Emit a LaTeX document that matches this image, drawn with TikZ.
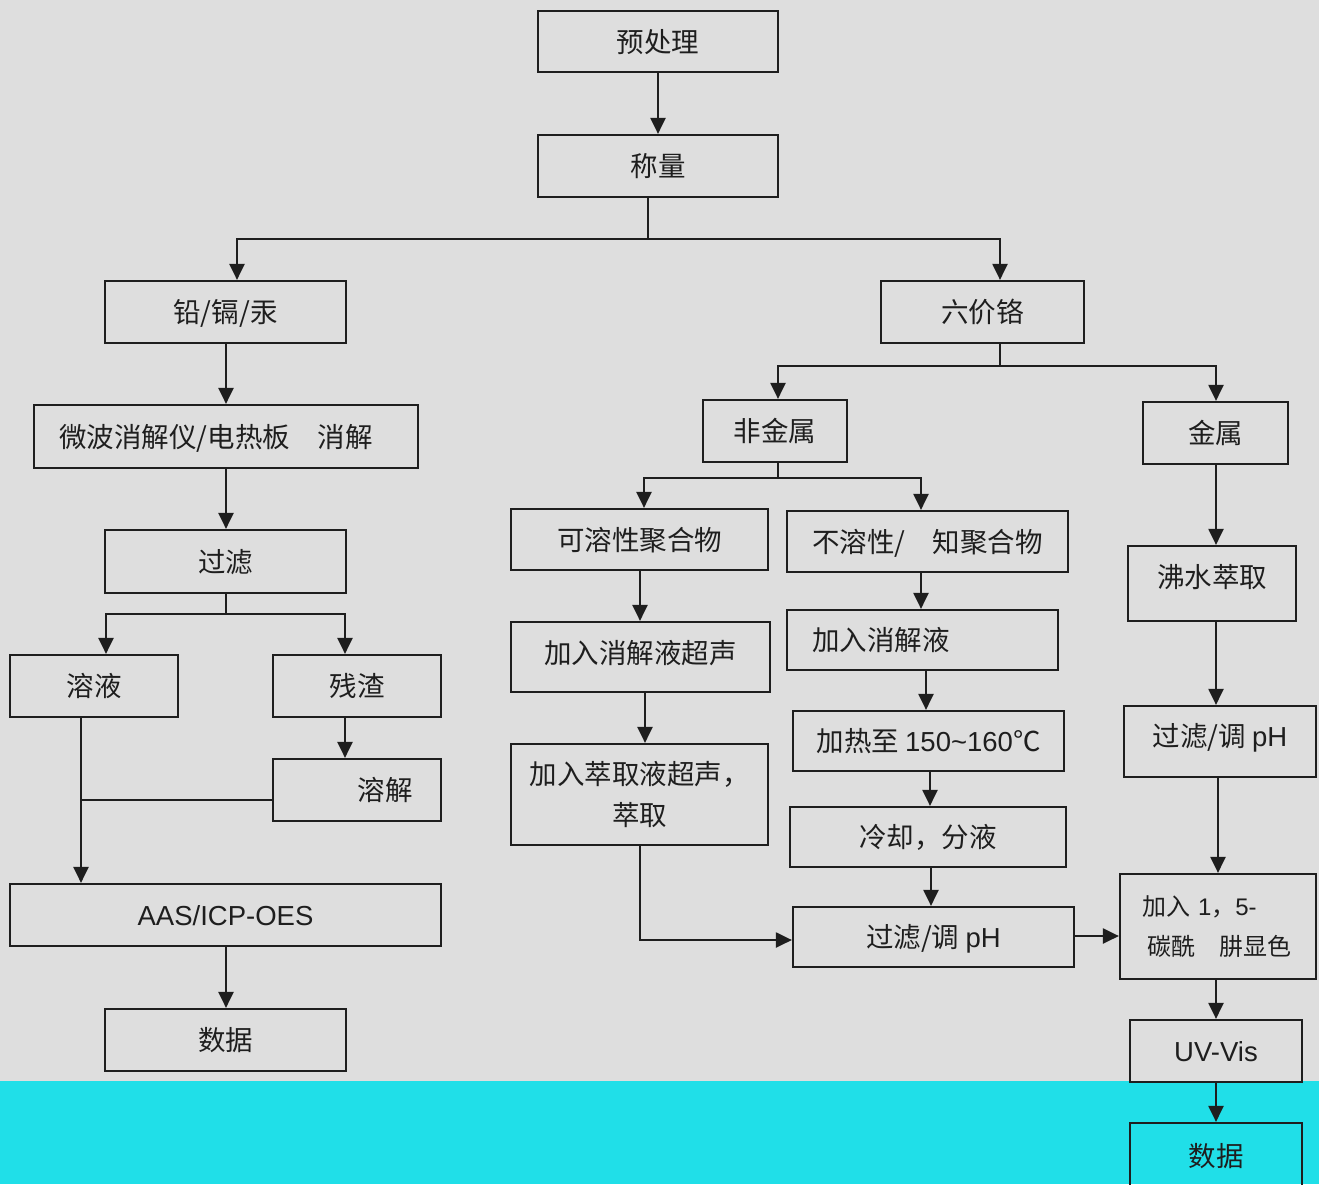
\documentclass[tikz,border=0pt]{standalone}
\usepackage{fontspec}
\setmainfont{Liberation Sans}
\newfontfamily\cjk{Noto Sans CJK SC}
\newfontfamily\latf{Liberation Sans}
\usetikzlibrary{arrows.meta}
\definecolor{bggray}{HTML}{DEDEDE}
\definecolor{bandcyan}{HTML}{20DFE8}
\definecolor{ink}{HTML}{1E1E1E}
\begin{document}
\begin{tikzpicture}[x=1pt,y=-1pt,
  boxbase/.style={draw=ink, line width=2.2pt, inner sep=0pt, text=ink, align=center},
  box/.style={boxbase, font=\cjk\fontsize{27.5}{34}\selectfont, text height=21pt, text depth=0pt},
  boxml/.style={boxbase, font=\cjk\fontsize{27.5}{41}\selectfont},
  arr/.style={draw=ink, line width=2.2pt, -{Triangle[length=16pt,width=15pt]}},
  ln/.style={draw=ink, line width=2.2pt}]
\useasboundingbox (0,0) rectangle (1319,1184);
\fill[bggray] (0,0) rectangle (1319,1184);
\fill[bandcyan] (0,1081) rectangle (1319,1184);

% left branch and top
\node[box, minimum width=240pt, minimum height=61pt] (pre) at (658,41.5) {预处理};
\node[box, minimum width=240pt, minimum height=62pt] (weigh) at (658,166) {称量};
\node[box, minimum width=241pt, minimum height=62pt] (pb) at (225.5,312) {铅/镉/汞};
\node[box, minimum width=203pt, minimum height=62pt] (cr6) at (982.5,312) {六价铬};
\node[box, minimum width=384pt, minimum height=63pt] (mw) at (226,436.5) {微波消解仪/电热板\hspace{1em}消解\hspace*{20pt}};
\node[box, minimum width=241pt, minimum height=63pt] (filt1) at (225.5,561.5) {过滤};
\node[box, minimum width=168pt, minimum height=62pt] (sol) at (94,686) {溶液};
\node[box, minimum width=168pt, minimum height=62pt] (res) at (357,686) {残渣};
\node[box, minimum width=168pt, minimum height=62pt] (dis) at (357,790) {\hspace*{56pt}溶解};
\node[box, minimum width=431pt, minimum height=62pt] (aas) at (225.5,915) {{\latf AAS/ICP-OES}};
\node[box, minimum width=241pt, minimum height=62pt] (data1) at (225.5,1040) {数据};

% right branch
\node[box, minimum width=144pt, minimum height=62pt] (nonm) at (775,431) {非金属};
\node[box, minimum width=145pt, minimum height=62pt] (metal) at (1215.5,433) {金属};
\node[box, minimum width=257pt, minimum height=61pt] (solp) at (639.5,539.5) {可溶性聚合物};
\node[box, minimum width=281pt, minimum height=61pt] (insp) at (927.5,541.5) {不溶性/\hspace{1em}知聚合物};
\node[box, minimum width=259pt, minimum height=70pt] (addus) at (640.5,657) {\raisebox{4pt}{加入消解液超声}};
\node[box, minimum width=271pt, minimum height=60pt] (adddig) at (922.5,640) {加入消解液\hspace*{83pt}};
\node[boxml, minimum width=257pt, minimum height=101pt] (extr) at (639.5,794.5) {加入萃取液超声，\\萃取};
\node[box, minimum width=271pt, minimum height=60pt] (heat) at (928.5,741) {加热至 {\latf 150\textasciitilde160}℃};
\node[box, minimum width=276pt, minimum height=60pt] (cool) at (928,837) {冷却，分液};
\node[box, minimum width=281pt, minimum height=60pt] (filt2) at (933.5,937) {过滤/调 {\latf pH}};
\node[box, minimum width=168pt, minimum height=75pt] (boil) at (1212,583.5) {\raisebox{6.5pt}{沸水萃取}};
\node[box, minimum width=192pt, minimum height=71pt] (filt3) at (1220,741.5) {\raisebox{5.5pt}{过滤/调 {\latf pH}}};
\node[boxbase, font=\cjk\fontsize{24}{40}\selectfont, align=left, text width=152pt, minimum width=196pt, minimum height=105pt] (color) at (1218,926.5) {加入 {\latf 1}，{\latf 5-}\\\hspace*{5pt}碳酰\hspace{1em}肼显色};
\node[box, minimum width=172pt, minimum height=62pt] (uv) at (1216,1051) {{\latf UV-Vis}};
\node[box, minimum width=172pt, minimum height=66pt] (data2) at (1216,1156) {数据};

% helper positions
\coordinate (j1) at (648,239);
\coordinate (j2) at (226,614);
\coordinate (xm) at (226,0);
\coordinate (sx) at (81,800);
\coordinate (j3) at (1000,366);
\coordinate (j4) at (778,478);
\coordinate (xs) at (640,0);
\coordinate (xa) at (645,0);
\coordinate (xi) at (921,0);
\coordinate (xb) at (926,0);
\coordinate (xc) at (930,0);
\coordinate (xd) at (931,0);
\coordinate (j5) at (640,940);
\coordinate (ye) at (0,936);
\coordinate (xf) at (1216,0);
\coordinate (xg) at (1218,0);
\coordinate (xr) at (345,0);

% connectors top/left
\draw[arr] (pre.south) -- (weigh.north);
\draw[ln] (weigh.south -| j1) -- (j1);
\draw[arr] (j1) -| ([xshift=11.5pt]pb.north);
\draw[arr] (j1) -| ([xshift=17.5pt]cr6.north);
\draw[arr] (pb.south -| xm) -- (mw.north -| xm);
\draw[arr] (mw.south -| xm) -- (filt1.north -| xm);
\draw[ln] (filt1.south -| xm) -- (j2);
\draw[arr] (j2) -| ([xshift=12pt]sol.north);
\draw[arr] (j2) -| (res.north -| xr);
\draw[arr] (res.south -| xr) -- (dis.north -| xr);
\draw[arr] (sol.south -| sx) -- (aas.north -| sx);
\draw[ln] (dis.west |- sx) -- (sx);
\draw[arr] (aas.south -| xm) -- (data1.north -| xm);

% connectors right
\draw[ln] (cr6.south -| j3) -- (j3);
\draw[arr] (j3) -| ([xshift=3pt]nonm.north);
\draw[arr] (j3) -| (metal.north -| xf);
\draw[ln] (nonm.south -| j4) -- (j4);
\draw[arr] (j4) -| ([xshift=4.5pt]solp.north);
\draw[arr] (j4) -| (insp.north -| xi);
\draw[arr] (solp.south -| xs) -- (addus.north -| xs);
\draw[arr] (insp.south -| xi) -- (adddig.north -| xi);
\draw[arr] (addus.south -| xa) -- (extr.north -| xa);
\draw[arr] (adddig.south -| xb) -- (heat.north -| xb);
\draw[arr] (heat.south -| xc) -- (cool.north -| xc);
\draw[arr] (cool.south -| xd) -- (filt2.north -| xd);
\draw[arr] (extr.south -| j5) -- (j5) -- (filt2.west |- j5);
\draw[arr] (filt2.east |- ye) -- (color.west |- ye);
\draw[arr] (metal.south -| xf) -- (boil.north -| xf);
\draw[arr] (boil.south -| xf) -- (filt3.north -| xf);
\draw[arr] (filt3.south -| xg) -- (color.north -| xg);
\draw[arr] (color.south -| xf) -- (uv.north -| xf);
\draw[arr] (uv.south -| xf) -- (data2.north -| xf);
\end{tikzpicture}
\end{document}
